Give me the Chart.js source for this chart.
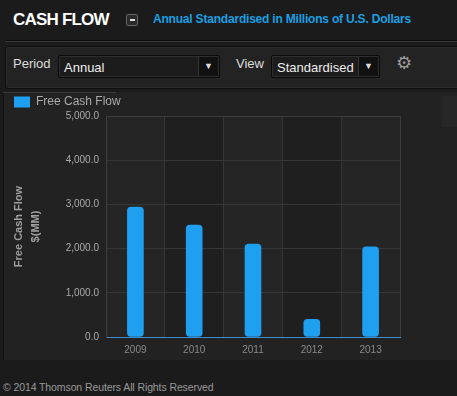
<!DOCTYPE html>
<html>
<head>
<meta charset="utf-8">
<script src="https://cdn.jsdelivr.net/npm/chart.js@4.4.1/dist/chart.umd.min.js"></script>
<style>
  body { margin: 0; width: 457px; height: 396px; background: #1b1b1b; overflow: hidden;
         font-family: "Liberation Sans", Arial, sans-serif; position: relative; }
  .abs { position: absolute; }
  #title { left: 13px; top: 10px; color: #fff; font-weight: bold; font-size: 17px; letter-spacing: -0.8px; }
  #minus { left: 126px; top: 14px; width: 10px; height: 10px; border: 1px solid #666; border-radius: 2px; background: #2a2a2a; }
  #minus:after { content: ""; position: absolute; left: 3px; top: 4px; width: 5px; height: 2px; background: #ddd; }
  #sub { left: 153px; top: 12px; color: #1a9fe2; font-weight: bold; font-size: 12px; letter-spacing: -0.2px; }
  #sep { left: 5px; top: 40px; width: 452px; height: 1px; background: #3a3a3a; border-top: 1px solid #0c0c0c; }
  #toolbar { left: 5px; top: 46px; width: 460px; height: 41px; background: #232323; border: 1px solid #0e0e0e;
             border-radius: 3px; box-shadow: inset 0 0 0 1px #2c2c2c; }
  .lbl { color: #ddd; font-size: 13px; top: 56px; }
  .sel { top: 55px; height: 21px; background: #1c1c1c; border: 1px solid #0a0a0a; border-radius: 2px;
         box-shadow: inset 0 0 0 1px #2e2e2e; color: #eee; font-size: 13px; line-height: 23px; text-indent: 5px; }
  .btn { position: absolute; right: 1px; top: 1px; width: 19px; height: 19px; background: #111; border-left: 1px solid #333;
         color: #ddd; font-size: 9px; line-height: 19px; text-indent: 0; text-align: center; }
  #gear { left: 396px; top: 52px; color: #9a9a9a; font-family: "DejaVu Sans"; font-size: 18px; }
  #panel { left: 3px; top: 92px; width: 454px; height: 268px; background: #222; border-left: 1px solid #111; }
  #tab { left: 3px; top: 92px; width: 113px; height: 1px; background: #3a3a3a; }
  #strip { left: 442px; top: 96px; width: 15px; height: 31px; background: #272727; }
  #foot { left: 3px; top: 381px; color: #9a9a9a; font-size: 10.5px; letter-spacing: -0.1px; }
  #wrap { left: 0; top: 92px; width: 442px; height: 268px; }
</style>
</head>
<body>
<div class="abs" id="title">CASH FLOW</div>
<div class="abs" id="minus"></div>
<div class="abs" id="sub">Annual Standardised in Millions of U.S. Dollars</div>
<div class="abs" id="sep"></div>
<div class="abs" id="toolbar"></div>
<div class="abs lbl" style="left:13px">Period</div>
<div class="abs sel" style="left:58px;width:160px">Annual<div class="btn">&#9660;</div></div>
<div class="abs lbl" style="left:236px">View</div>
<div class="abs sel" style="left:271px;width:107px">Standardised<div class="btn">&#9660;</div></div>
<div class="abs" id="gear">&#9881;</div>
<div class="abs" id="panel"></div>
<div class="abs" id="tab"></div>
<div class="abs" id="strip"></div>
<div class="abs" id="wrap"><canvas id="cashFlowChart" width="442" height="268"></canvas></div>
<div class="abs" id="foot">&copy; 2014 Thomson Reuters All Rights Reserved</div>

<script>
// Free cash flow, millions of U.S. dollars
const years = ["2009", "2010", "2011", "2012", "2013"];
const freeCashFlow = [2940, 2530, 2100, 400, 2040];
const yTicks = [0, 1000, 2000, 3000, 4000, 5000];

// alternating column shading + solid frame on top/right
const plotFrame = {
    id: 'plotFrame',
    beforeInit(chart) {
        const fit = chart.legend.fit;
        chart.legend.fit = function() {
            fit.bind(chart.legend)();
            this.height = 24;
        };
    },
    beforeDraw(chart) {
        const { ctx, chartArea, scales } = chart;
        const x = scales.x;
        ctx.save();
        years.forEach((year, i) => {
            const half = (x.getPixelForValue(1) - x.getPixelForValue(0)) / 2;
            const cx = x.getPixelForValue(i);
            ctx.fillStyle = i % 2 === 0 ? '#252525' : '#1f1f1f';
            ctx.fillRect(cx - half, chartArea.top, half * 2, chartArea.bottom - chartArea.top);
        });
        ctx.restore();
    },
    beforeDatasetsDraw(chart) {
        const { ctx, chartArea } = chart;
        ctx.save();
        ctx.strokeStyle = '#3c3c3c';
        ctx.lineWidth = 1;
        ctx.beginPath();
        ctx.moveTo(chartArea.left, chartArea.top + 0.5);
        ctx.lineTo(chartArea.right + 0.5, chartArea.top + 0.5);
        ctx.lineTo(chartArea.right + 0.5, chartArea.bottom);
        ctx.stroke();
        ctx.restore();
    }
};

function drawChart() {
    const ctx = document.getElementById('cashFlowChart').getContext('2d');

    new Chart(ctx, {
        type: 'bar',
        data: {
            labels: years,
            datasets: [{
                label: 'Free Cash Flow',
                data: freeCashFlow,
                backgroundColor: '#1f9ff0',
                barThickness: 16,
                borderRadius: 4,
                borderSkipped: false
            }]
        },
        options: {
            responsive: false,
            animation: false,
            layout: { padding: { left: 10, right: 42, top: 0, bottom: 0 } },
            plugins: {
                legend: {
                    position: 'top',
                    align: 'start',
                    labels: {
                        boxWidth: 16,
                        boxHeight: 11,
                        padding: 4,
                        color: '#aaa',
                        font: { family: 'Liberation Sans', size: 12 }
                    }
                },
                tooltip: { enabled: false }
            },
            scales: {
                x: {
                    grid: { color: '#363636', borderDash: [1, 2], drawTicks: false },
                    border: { color: '#3d8ccc', width: 1 },
                    ticks: { color: '#8a8a8a', padding: 7, font: { family: 'Liberation Sans', size: 10 } },
                    afterFit(scale) { scale.height = 23; }
                },
                y: {
                    min: 0,
                    max: 5000,
                    afterBuildTicks(scale) { scale.ticks = yTicks.map(v => ({ value: v })); },
                    grid: { color: '#363636', borderDash: [1, 2], drawTicks: false },
                    border: { color: '#3c3c3c' },
                    ticks: {
                        color: '#aaa',
                        padding: 7,
                        font: { family: 'Liberation Sans', size: 10 },
                        callback: v => v.toLocaleString('en-US', { minimumFractionDigits: 1 })
                    },
                    title: {
                        display: true,
                        text: ['Free Cash Flow', '$(MM)'],
                        color: '#a0a0a0',
                        padding: 0,
                        font: { family: 'Liberation Sans', size: 11, weight: 'bold', lineHeight: 1.6 }
                    },
                    afterFit(scale) { scale.width = 96; }
                }
            }
        },
        plugins: [plotFrame]
    });
}

window.onload = function() {
    drawChart();
};
</script>
</body>
</html>
